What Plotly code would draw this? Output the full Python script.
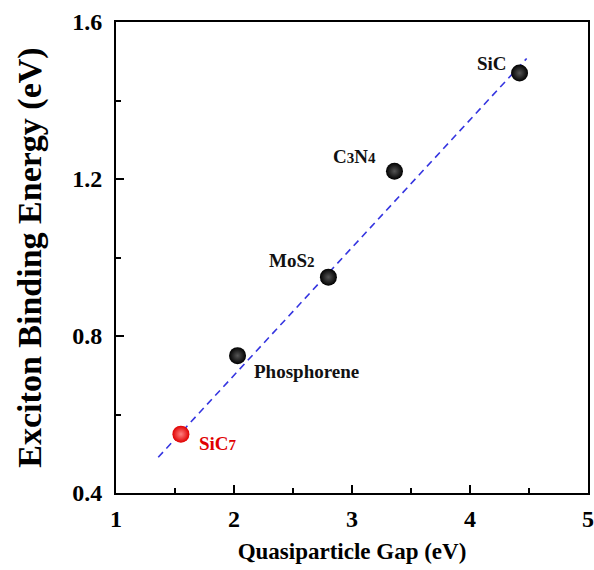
import plotly.graph_objects as go

# Data
materials = ["SiC<sub>7</sub>", "Phosphorene", "MoS<sub>2</sub>", "C<sub>3</sub>N<sub>4</sub>", "SiC"]
gap = [1.55, 2.03, 2.80, 3.36, 4.42]
binding = [0.55, 0.75, 0.95, 1.22, 1.47]
fit_x = [1.358, 4.48]
fit_y = [0.491, 1.507]

x_ticks = [1, 2, 3, 4, 5]
y_ticks = [0.4, 0.8, 1.2, 1.6]

FONT = "Liberation Serif"

fig = go.Figure()

fig.add_trace(go.Scatter(
    x=fit_x, y=fit_y, mode="lines",
    line=dict(color="#3535e0", width=1.6, dash="7px,5px"),
    hoverinfo="skip", showlegend=False,
))

fig.add_trace(go.Scatter(
    x=gap[1:], y=binding[1:], mode="markers",
    marker=dict(size=17, color="#000000",
                gradient=dict(type="radial", color="#555555"),
                line=dict(width=0)),
    showlegend=False,
))
fig.add_trace(go.Scatter(
    x=gap[:1], y=binding[:1], mode="markers",
    marker=dict(size=17, color="#e00000",
                gradient=dict(type="radial", color="#ff8080"),
                line=dict(width=0)),
    showlegend=False,
))


def fmt_label(name):
    # render subscripts as smaller digits close to the baseline, like the reference
    return name.replace("<sub>", "<span style='font-size:15px'>").replace("</sub>", "</span>")


placement = [
    ("left", 16, -9),
    ("left", 14, -16),
    ("right", -11, 17),
    ("right", -16, 15),
    ("right", -11, 10),
]
for i, name in enumerate(materials):
    anchor, dx, dy = placement[i]
    fig.add_annotation(
        x=gap[i], y=binding[i], text="<b>" + fmt_label(name) + "</b>",
        showarrow=False, xanchor=anchor, yanchor="middle",
        xshift=dx, yshift=dy,
        font=dict(family=FONT, size=19, color="#e00000" if i == 0 else "#111111"),
    )

axis_common = dict(
    showline=True, linecolor="black", linewidth=1.8, mirror=True,
    ticks="inside", ticklen=8, tickwidth=1.6, tickcolor="black",
    showgrid=False, zeroline=False, automargin=False,
    tickfont=dict(family=FONT, size=24, color="black"),
)

fig.update_xaxes(
    range=[1, 5], tickvals=x_ticks, ticktext=["<b>%d</b>" % v for v in x_ticks],
    minor=dict(ticks="inside", ticklen=5, tickwidth=1.6, tickcolor="black", dtick=0.5),
    title=dict(text="<b>Quasiparticle Gap (eV)</b>", font=dict(family=FONT, size=23, color="black"), standoff=12),
    ticklabelstandoff=3,
    **axis_common,
)
fig.update_yaxes(
    range=[0.4, 1.6], tickvals=y_ticks, ticktext=["<b>%.1f</b>" % v for v in y_ticks],
    minor=dict(ticks="inside", ticklen=5, tickwidth=1.6, tickcolor="black", dtick=0.2),
    title=dict(text="<b>Exciton Binding Energy (eV)</b>", font=dict(family=FONT, size=34, color="black"), standoff=20),
    ticklabelstandoff=7,
    **axis_common,
)

fig.update_layout(
    width=594, height=570,
    margin=dict(l=116, r=6, t=22, b=77),
    plot_bgcolor="white", paper_bgcolor="white",
    font=dict(family=FONT),
)

fig.write_html("out.html")
